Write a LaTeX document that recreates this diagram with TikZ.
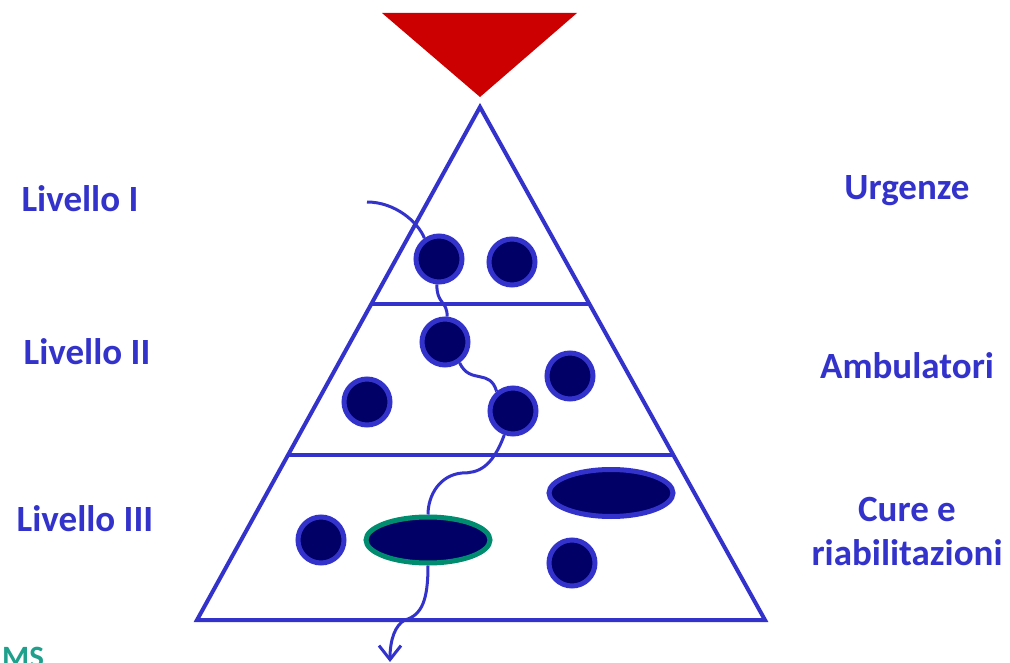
\documentclass[tikz,border=0pt]{standalone}
\usepackage{fontspec}
\setmainfont{Carlito}
\usetikzlibrary{shapes.geometric,arrows.meta}
\definecolor{pblue}{RGB}{51,51,204}
\definecolor{dnavy}{RGB}{0,0,102}
\definecolor{pred}{RGB}{204,0,0}
\definecolor{pgreen}{RGB}{0,140,110}
\definecolor{pteal}{RGB}{30,160,140}
\begin{document}
\begin{tikzpicture}[x=1pt,y=-1pt,
  ball/.style={circle,draw=pblue,fill=dnavy,line width=5pt,minimum size=46pt,inner sep=0pt},
  oval/.style={ellipse,draw=pblue,fill=dnavy,line width=5pt,inner sep=0pt},
  flow/.style={draw=pblue,line width=3pt},
  lbl/.style={text=pblue,font=\bfseries\fontsize{37}{44}\selectfont,align=center},
  frame/.style={draw=pblue,line width=4pt}]
\useasboundingbox (0,0) rectangle (1010,663);
% top red triangle
\fill[pred] (382,13) -- (577,13) -- (480,97) -- cycle;
% pyramid
\coordinate (apex) at (480,107);
\coordinate (bl) at (197,620);
\coordinate (br) at (765,620);
\draw[frame,line join=miter] (apex) -- (bl) -- (br) -- cycle;
\coordinate (l1a) at (371,304); \coordinate (l1b) at (589,304);
\coordinate (l2a) at (288,455); \coordinate (l2b) at (673,455);
\draw[frame] (l1a) -- (l1b);
\draw[frame] (l2a) -- (l2b);
% balls
\node[ball] (c1) at (439,259) {};
\node[ball] (c2) at (512,262) {};
\node[ball] (c3) at (445,342) {};
\node[ball] (c4) at (570,376) {};
\node[ball] (c5) at (367,402) {};
\node[ball] (c6) at (513,411) {};
\node[ball] (c7) at (321,540) {};
\node[ball] (c8) at (572,563) {};
\node[oval,draw=pgreen,minimum width=124pt,minimum height=46pt] (g) at (428,540) {};
\node[oval,minimum width=124pt,minimum height=47pt] (e) at (611,493) {};
% path
\coordinate (start) at (367,202);
\coordinate (w1) at (462,473);
\coordinate (w2) at (405,620);
\coordinate (endp) at (390,662);
\draw[flow] (start) .. controls (395,202) and (418,222) .. (c1.125);
\draw[flow] (c1.-95) .. controls (437,305) and (447,300) .. (c3.85);
\draw[flow] (c3.-55) .. controls (470,385) and (490,368) .. (c6.130);
\draw[flow] (c6.-110) .. controls (492,468) and (478,473) .. (w1)
  .. controls (440,475) and (428,495) .. (g.north);
\draw[flow] (g.south) .. controls (428,600) and (422,615) .. (w2);
\draw[flow,-{Straight Barb[length=14pt,width=22pt,line width=3pt]}] (w2) .. controls (395,625) and (390,640) .. (endp);
% labels
\node[lbl] (t1) at (80,199) {Livello I};
\node[lbl] (t2) at (87,352) {Livello II};
\node[lbl] (t3) at (85,519) {Livello III};
\node[lbl] (r1) at (907,191) {Urgenze};
\node[lbl] (r2) at (907,366) {Ambulatori};
\node[lbl] (r3) at (907,532) {Cure e\\riabilitazioni};
\node[text=pteal,font=\bfseries\fontsize{31}{36}\selectfont,anchor=north west,inner sep=0pt] (ms) at (2,647) {MS};
\end{tikzpicture}
\end{document}
